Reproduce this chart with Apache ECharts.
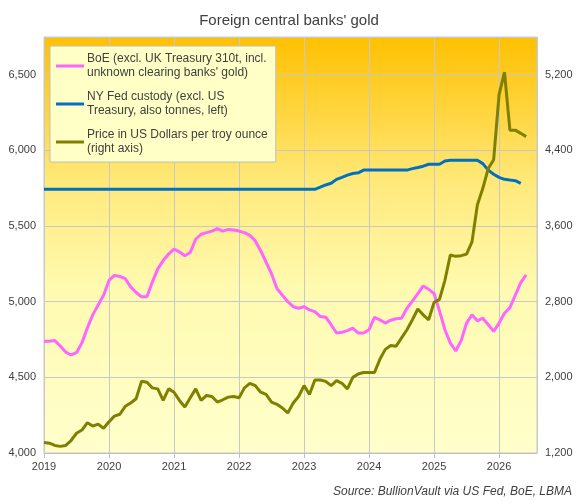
<!DOCTYPE html>
<html>
<head>
<meta charset="utf-8">
<script src="https://cdn.jsdelivr.net/npm/echarts@6/dist/echarts.min.js"></script>
<style>
  html, body { margin: 0; padding: 0; background: #fff; }
  #chart { width: 578px; height: 504px; }
</style>
</head>
<body>
<div id="chart"></div>
<script>
// monthly data, Jan 2019 onwards
var startYear = 2019;

// BoE vault holdings, tonnes (left axis)
var boe = [4739, 4739, 4743, 4707, 4667, 4648, 4663, 4728, 4826, 4913, 4978, 5043,
    5141, 5174, 5167, 5152, 5098, 5061, 5033, 5033, 5130, 5217, 5272, 5315,
    5348, 5330, 5304, 5326, 5413, 5446, 5457, 5467, 5483, 5467, 5478, 5474,
    5467, 5457, 5439, 5402, 5337, 5261, 5185, 5087, 5043, 5000, 4967, 4957,
    4967, 4946, 4935, 4902, 4898, 4848, 4793, 4798, 4809, 4826, 4793, 4793,
    4815, 4896, 4880, 4859, 4878, 4887, 4891, 4957, 5004, 5054, 5104, 5083,
    5054, 4939, 4815, 4728, 4674, 4743, 4859, 4913, 4874, 4891, 4848, 4804,
    4859, 4924, 4961, 5043, 5126, 5178];

// NY Fed custody, tonnes (left axis)
var nyFed = [5743, 5743, 5743, 5743, 5743, 5743, 5743, 5743, 5743, 5743, 5743, 5743,
    5743, 5743, 5743, 5743, 5743, 5743, 5743, 5743, 5743, 5743, 5743, 5743,
    5743, 5743, 5743, 5743, 5743, 5743, 5743, 5743, 5743, 5743, 5743, 5743,
    5743, 5743, 5743, 5743, 5743, 5743, 5743, 5743, 5743, 5743, 5743, 5743,
    5743, 5743, 5743, 5757, 5772, 5783, 5809, 5822, 5837, 5848, 5852, 5870,
    5870, 5870, 5870, 5870, 5870, 5870, 5870, 5870, 5880, 5887, 5896, 5909,
    5909, 5909, 5930, 5935, 5935, 5935, 5935, 5935, 5935, 5913, 5870, 5843,
    5822, 5809, 5804, 5800, 5783];

// gold price, USD/oz (right axis)
var price = [1311, 1304, 1280, 1270, 1280, 1332, 1409, 1443, 1520, 1485, 1506, 1461,
    1530, 1590, 1610, 1694, 1729, 1774, 1958, 1948, 1889, 1878, 1756, 1878,
    1843, 1756, 1687, 1784, 1878, 1756, 1809, 1798, 1739, 1763, 1791, 1798,
    1784, 1889, 1937, 1913, 1843, 1819, 1739, 1715, 1676, 1624, 1729, 1798,
    1913, 1819, 1972, 1972, 1958, 1913, 1965, 1937, 1878, 2000, 2035, 2052,
    2052, 2052, 2191, 2296, 2337, 2330, 2417, 2504, 2609, 2723, 2661, 2609,
    2793, 2824, 3026, 3294, 3280, 3287, 3304, 3433, 3826, 4000, 4209, 4302,
    4991, 5228, 4615, 4615, 4581, 4546];

var names = [
    "BoE (excl. UK Treasury 310t, incl.\nunknown clearing banks' gold)",
    "NY Fed custody (excl. US\nTreasury, also tonnes, left)",
    "Price in US Dollars per troy ounce\n(right axis)"
];

function toPoints(arr) {
    return arr.map(function(v, i) { return [startYear + i / 12, v]; });
}

var myChart = echarts.init(document.getElementById('chart'));
var font = 'Liberation Sans, Arial, sans-serif';

var option = {
    animation: false,
    textStyle: { fontFamily: font },
    title: {
        text: "Foreign central banks' gold",
        left: 'center',
        top: 8,
        textStyle: { fontSize: 15, fontWeight: 'normal', color: '#404040', fontFamily: font }
    },
    legend: {
        orient: 'vertical',
        left: 50,
        top: 46,
        padding: [6, 8, 6, 6],
        itemGap: 10,
        itemWidth: 28,
        itemHeight: 3,
        icon: 'rect',
        backgroundColor: '#FFFFC6',
        borderColor: '#BFBFBF',
        borderWidth: 1,
        textStyle: { fontSize: 12, color: '#404040', lineHeight: 14, fontFamily: font, padding: [0, 0, 0, -2] },
        data: names
    },
    grid: {
        left: 44, right: 41, top: 37, bottom: 51,
        show: true,
        borderColor: '#C8C8C8',
        borderWidth: 1,
        backgroundColor: new echarts.graphic.LinearGradient(0, 0, 0, 1, [
            { offset: 0, color: '#FFC000' },
            { offset: 0.35, color: '#FFE97A' },
            { offset: 0.6, color: '#FFFAB0' },
            { offset: 1, color: '#FFFFCC' }
        ])
    },
    xAxis: {
        type: 'value',
        min: 2019,
        max: 2026 + 7 / 12,
        interval: 1,
        axisLine: { show: true, lineStyle: { color: '#BFBFBF' } },
        axisTick: { show: true, length: 5, lineStyle: { color: '#BFBFBF' } },
        axisLabel: { color: '#404040', fontSize: 11, showMaxLabel: false, margin: 8,
            formatter: function(v) { return String(Math.round(v)); } },
        splitLine: { show: true, lineStyle: { color: '#C8C8C8' } }
    },
    yAxis: [{
        type: 'value',
        min: 4000,
        max: 6750,
        interval: 500,
        axisLine: { show: false },
        axisTick: { show: false },
        axisLabel: { color: '#404040', fontSize: 11, showMaxLabel: false,
            formatter: function(v) { return v.toLocaleString('en-US'); } },
        splitLine: { show: true, lineStyle: { color: '#C8C8C8' } }
    }, {
        type: 'value',
        min: 1200,
        max: 5600,
        interval: 800,
        axisLine: { show: false },
        axisTick: { show: false },
        axisLabel: { color: '#404040', fontSize: 11, showMaxLabel: false },
        splitLine: { show: false }
    }],
    series: [{
        name: names[0],
        type: 'line',
        data: toPoints(boe),
        showSymbol: false,
        lineStyle: { width: 3, color: '#FF66FF' },
        itemStyle: { color: '#FF66FF' }
    }, {
        name: names[1],
        type: 'line',
        data: toPoints(nyFed),
        showSymbol: false,
        lineStyle: { width: 3, color: '#0070C0' },
        itemStyle: { color: '#0070C0' }
    }, {
        name: names[2],
        type: 'line',
        yAxisIndex: 1,
        data: toPoints(price),
        showSymbol: false,
        lineStyle: { width: 3, color: '#7F7F00' },
        itemStyle: { color: '#7F7F00' }
    }],
    graphic: [{
        type: 'text',
        right: 6,
        bottom: 6,
        style: {
            text: 'Source: BullionVault via US Fed, BoE, LBMA',
            fill: '#404040',
            font: 'italic 12px ' + font
        }
    }]
};

myChart.setOption(option);
</script>
</body>
</html>
